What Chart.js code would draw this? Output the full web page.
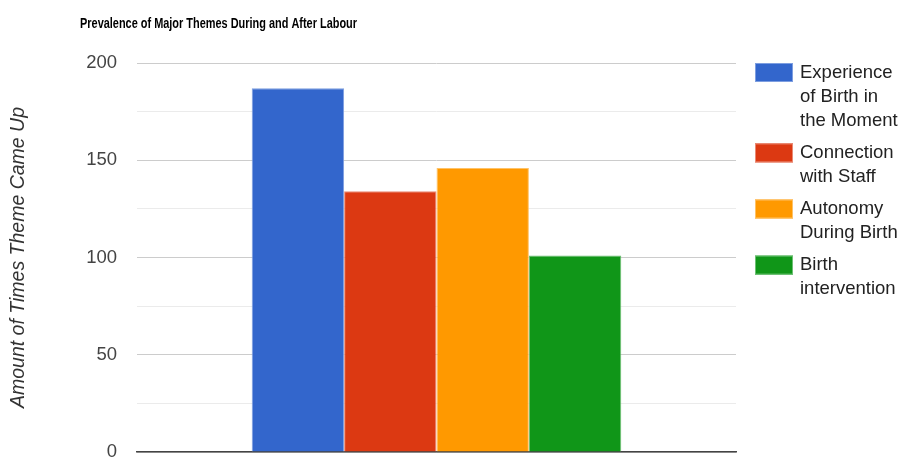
<!DOCTYPE html>
<html>
<head>
<meta charset="utf-8">
<title>Prevalence of Major Themes During and After Labour</title>
<script src="https://cdn.jsdelivr.net/npm/chart.js@4.4.1/dist/chart.umd.min.js"></script>
<style>
  html, body { margin: 0; padding: 0; background: #ffffff; }
  #wrap { width: 901px; height: 457px; }
</style>
</head>
<body>
<div id="wrap"><canvas id="chart" width="901" height="457"></canvas></div>
<script>
// Chart data
const chartTitle = 'Prevalence of Major Themes During and After Labour';
const axisTitle = 'Amount of Times Theme Came Up';
const categories = [''];
const themeNames = [
  ['Experience', 'of Birth in', 'the Moment'],
  ['Connection', 'with Staff'],
  ['Autonomy', 'During Birth'],
  ['Birth', 'intervention']
];
const themeCounts = [187, 134, 146, 101];
const themeColors = ['#3366cc', '#dc3912', '#ff9900', '#109618'];
const themeEdges = ['#7d9ee0', '#ea8a74', '#ffc266', '#6cc073'];
const yTicks = [0, 50, 100, 150, 200];

const FONT = '"Liberation Sans", Arial, sans-serif';

// Title (condensed bold) and wrapped legend drawn on the canvas
const decorations = {
  id: 'decorations',
  afterDraw(chart) {
    const ctx = chart.ctx;
    ctx.save();
    ctx.fillStyle = '#000000';
    ctx.font = 'bold 15px ' + FONT;
    ctx.textAlign = 'left';
    ctx.textBaseline = 'middle';
    const titleWidth = 277;
    const natural = ctx.measureText(chartTitle).width;
    ctx.save();
    ctx.translate(80, 24);
    ctx.scale(titleWidth / natural, 1);
    ctx.fillText(chartTitle, 0, 0);
    ctx.restore();

    const boxX = 755, boxW = 38, boxH = 19, textX = 800;
    const lineGap = 24.3, entryGap = 7.5;
    let y = 72.5;
    ctx.font = '18.5px ' + FONT;
    chart.data.datasets.forEach((ds, i) => {
      ctx.fillStyle = ds.backgroundColor;
      ctx.fillRect(boxX, y - boxH / 2, boxW, boxH);
      ctx.strokeStyle = ds.borderColor;
      ctx.lineWidth = 1;
      ctx.strokeRect(boxX + 0.5, y - boxH / 2 + 0.5, boxW - 1, boxH - 1);
      ctx.fillStyle = '#222222';
      themeNames[i].forEach((line, k) => {
        ctx.fillText(line, textX, y + k * lineGap);
      });
      y += themeNames[i].length * lineGap + entryGap;
    });
    ctx.restore();
  }
};

new Chart(document.getElementById('chart'), {
  type: 'bar',
  data: {
    labels: categories,
    datasets: themeNames.map((name, i) => ({
      label: name.join(' '),
      data: [themeCounts[i]],
      backgroundColor: themeColors[i],
      borderColor: themeEdges[i],
      borderWidth: 1
    }))
  },
  options: {
    responsive: false,
    maintainAspectRatio: false,
    devicePixelRatio: 1,
    animation: false,
    layout: { padding: { top: 63, bottom: 5, left: 0, right: 165 } },
    plugins: {
      legend: { display: false },
      title: { display: false },
      tooltip: { enabled: false }
    },
    datasets: {
      bar: { categoryPercentage: 0.617, barPercentage: 1 }
    },
    scales: {
      x: {
        afterFit(scale) { scale.height = 0; scale.paddingLeft = 0; scale.paddingRight = 0; },
        grid: { display: false },
        ticks: { display: false },
        border: { display: true, color: '#444444', width: 1.5 }
      },
      y: {
        min: 0,
        max: 200,
        afterFit(scale) { scale.width = 137; scale.paddingTop = 0; scale.paddingBottom = 0; },
        afterBuildTicks(scale) {
          const ticks = [];
          for (let v = yTicks[0]; v <= yTicks[yTicks.length - 1]; v += 25) ticks.push({ value: v });
          scale.ticks = ticks;
        },
        border: { display: false },
        grid: {
          drawTicks: false,
          color: (c) => (yTicks.includes(c.tick.value) ? '#cccccc' : '#ebebeb'),
          lineWidth: 1
        },
        ticks: {
          padding: 20,
          color: '#444444',
          font: { family: FONT, size: 18.5 },
          callback: (v) => (yTicks.includes(v) ? String(v) : '')
        },
        title: {
          display: true,
          text: axisTitle,
          color: '#333333',
          padding: { top: 7, bottom: 0 },
          font: { family: FONT, size: 19.5, style: 'italic' }
        }
      }
    }
  },
  plugins: [decorations]
});
</script>
</body>
</html>
